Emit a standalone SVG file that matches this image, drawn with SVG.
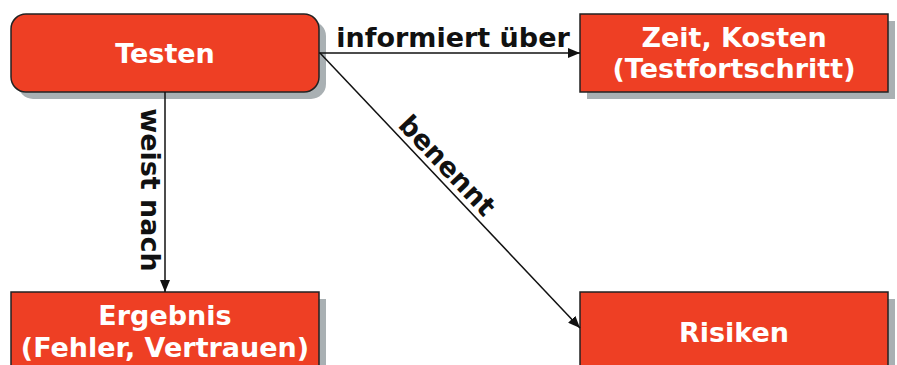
<svg xmlns="http://www.w3.org/2000/svg" width="897" height="365" viewBox="0 0 897 365">
  <defs>
    <style>
      .shadow { fill: #a9b0b3; }
      .box { fill: #ee3f24; stroke: #222; stroke-width: 1.5; }
      .ntext { font-family: Verdana, "DejaVu Sans", sans-serif; font-weight: bold; font-size: 27px; fill: #ffffff; text-anchor: middle; }
      .ltext { font-family: Verdana, "DejaVu Sans", sans-serif; font-weight: bold; font-size: 27px; fill: #111; text-anchor: middle; }
      .edge { stroke: #111; stroke-width: 1.5; fill: none; }
    </style>
    <marker id="arrow" viewBox="0 0 12 10" refX="12" refY="5" markerWidth="12" markerHeight="10" markerUnits="userSpaceOnUse" orient="auto">
      <path d="M0,0 L12,5 L0,10 Z" fill="#111"/>
    </marker>
  </defs>
  <rect width="897" height="365" fill="#ffffff"/>

  <g id="node-testen">
    <rect class="shadow" x="18" y="21" width="308" height="78" rx="15"/>
    <rect class="box" x="11" y="14" width="308" height="78" rx="15"/>
    <text class="ntext" x="165" y="63">Testen</text>
  </g>

  <g id="node-zeit">
    <rect class="shadow" x="587" y="21" width="308" height="78"/>
    <rect class="box" x="580" y="14" width="308" height="78"/>
    <text class="ntext" x="734" y="47">Zeit, Kosten</text>
    <text class="ntext" x="734" y="78">(Testfortschritt)</text>
  </g>

  <g id="node-ergebnis">
    <rect class="shadow" x="18" y="299" width="308" height="78"/>
    <rect class="box" x="11" y="292" width="308" height="78"/>
    <text class="ntext" x="165" y="325">Ergebnis</text>
    <text class="ntext" x="165" y="357">(Fehler, Vertrauen)</text>
  </g>

  <g id="node-risiken">
    <rect class="shadow" x="587" y="299" width="308" height="78"/>
    <rect class="box" x="580" y="292" width="308" height="78"/>
    <text class="ntext" x="734" y="342">Risiken</text>
  </g>

  <g id="connectors">
    <line class="edge" x1="319" y1="53" x2="580" y2="53" marker-end="url(#arrow)"/>
    <text class="ltext" x="453" y="47">informiert über</text>

    <line class="edge" x1="165" y1="92" x2="165" y2="292" marker-end="url(#arrow)"/>
    <text class="ltext" transform="translate(141,190) rotate(90)" x="0" y="0">weist nach</text>

    <line class="edge" x1="320" y1="53" x2="580" y2="328" marker-end="url(#arrow)"/>
    <text class="ltext" transform="translate(436,176) rotate(46.6)" x="0" y="-6">benennt</text>
  </g>
</svg>
